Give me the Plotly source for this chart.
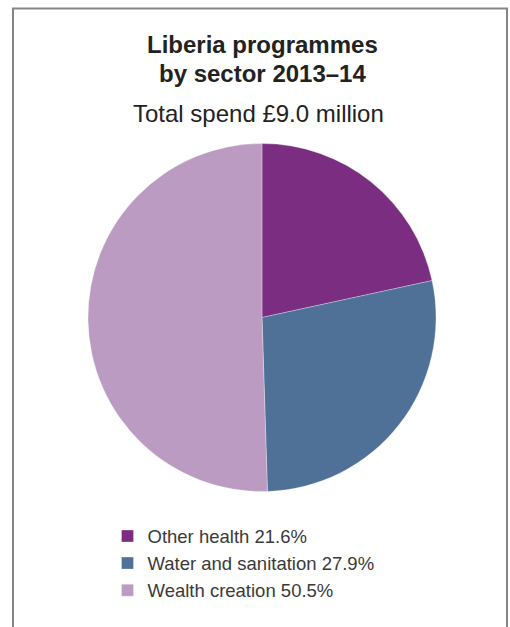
import plotly.graph_objects as go

# Sector breakdown of programme spend (percent of total)
sectors = ["Other health", "Water and sanitation", "Wealth creation"]
shares = [21.6, 27.9, 50.5]
colours = ["#7B2D82", "#4F7097", "#BB9BC1"]

title_lines = ["Liberia programmes", "by sector 2013–14"]
subtitle = "Total spend £9.0 million"

W, H = 510, 627
FONT = "Liberation Sans, Arial, Helvetica, sans-serif"


def px_x(x):
    return x / W


def px_y(y):
    return 1 - y / H


legend_labels = [f"{s} {v}%" for s, v in zip(sectors, shares)]

fig = go.Figure(
    go.Pie(
        labels=legend_labels,
        values=shares,
        marker=dict(colors=colours, line=dict(color="rgba(255,255,255,0.6)", width=0.5)),
        sort=False,
        direction="clockwise",
        rotation=0,
        textinfo="none",
        hoverinfo="skip",
        domain=dict(x=[px_x(88), px_x(436)], y=[px_y(491.5), px_y(143.5)]),
    )
)

annotations = [
    dict(text=f"<b>{title_lines[0]}</b>", x=px_x(262.7), y=px_y(44.5),
         font=dict(size=24, color="#222222", family=FONT)),
    dict(text=f"<b>{title_lines[1]}</b>", x=px_x(262.7), y=px_y(73.5),
         font=dict(size=24, color="#222222", family=FONT)),
    dict(text=subtitle, x=px_x(258), y=px_y(113),
         font=dict(size=24, color="#222222", family=FONT)),
]
for a in annotations:
    a.update(xref="paper", yref="paper", xanchor="center", yanchor="middle", showarrow=False)

frame = dict(type="line", xref="paper", yref="paper", line=dict(color="#858585", width=2))
shapes = [
    dict(frame, x0=px_x(13), x1=px_x(13), y0=0, y1=px_y(8)),
    dict(frame, x0=px_x(507), x1=px_x(507), y0=0, y1=px_y(8)),
    dict(frame, x0=px_x(12), x1=px_x(508), y0=px_y(8.5), y1=px_y(8.5)),
]

fig.update_layout(
    width=W,
    height=H,
    margin=dict(l=0, r=0, t=0, b=0),
    paper_bgcolor="white",
    plot_bgcolor="white",
    annotations=annotations,
    shapes=shapes,
    showlegend=True,
    legend=dict(
        x=px_x(107.5),
        y=px_y(517.5),
        xanchor="left",
        yanchor="top",
        font=dict(size=18.5, color="#3a3a3a", family=FONT),
        bgcolor="rgba(0,0,0,0)",
        traceorder="normal",
    ),
)

fig.write_html("out.html")
